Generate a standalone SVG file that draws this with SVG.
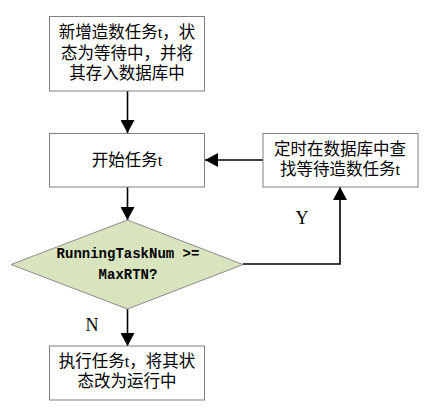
<svg xmlns="http://www.w3.org/2000/svg" width="433" height="410" viewBox="0 0 433 410">
<style>
.box{fill:#ffffff;stroke:#808080;stroke-width:1}
.dia{fill:#d7e4bd;stroke:#8c8c8c;stroke-width:1}
.t{font-family:"Liberation Serif","Noto Sans CJK SC",serif;font-size:16.5px;fill:#000;text-anchor:middle}
.d{font-family:"Liberation Mono","Noto Sans CJK SC",monospace;font-size:14px;font-weight:bold;fill:#000;text-anchor:middle}
.lbl{font-family:"Liberation Serif",serif;font-size:18px;fill:#000;text-anchor:middle}
.c{fill:none;stroke:#000;stroke-width:1.6}
</style>
<defs>
<marker id="ah" markerWidth="13" markerHeight="14" refX="13" refY="7" orient="auto" markerUnits="userSpaceOnUse">
<path d="M0,0 L13,7 L0,14 Z" fill="#000"/>
</marker>
</defs>
<rect width="433" height="410" fill="#fff"/>
<g id="connectors">
<path class="c" d="M127.5,91 V133" marker-end="url(#ah)"/>
<path class="c" d="M127.5,187 V220" marker-end="url(#ah)"/>
<path class="c" d="M127.5,309 V346" marker-end="url(#ah)"/>
<path class="c" d="M243,264 H340 V187" marker-end="url(#ah)"/>
<path class="c" d="M263,160 H205" marker-end="url(#ah)"/>
<text class="lbl" x="302" y="224">Y</text>
<text class="lbl" x="92" y="331">N</text>
</g>
<g id="node-new">
<rect class="box" x="49.5" y="16.5" width="155" height="74.5"/>
<text class="t" x="127" y="38">新增造数任务t，状</text>
<text class="t" x="127" y="59">态为等待中，并将</text>
<text class="t" x="127" y="79">其存入数据库中</text>
</g>
<g id="node-start">
<rect class="box" x="49.5" y="133.5" width="155" height="53.5"/>
<text class="t" x="127" y="166">开始任务t</text>
</g>
<g id="node-poll">
<rect class="box" x="263" y="133.5" width="155" height="53.5"/>
<text class="t" x="340" y="155">定时在数据库中查</text>
<text class="t" x="340" y="175">找等待造数任务t</text>
</g>
<g id="node-decision">
<polygon class="dia" points="127.5,220 243,264.5 127.5,309 11,264.5"/>
<text class="d" x="128" y="258">RunningTaskNum &gt;=</text>
<text class="d" x="128" y="279">MaxRTN?</text>
</g>
<g id="node-run">
<rect class="box" x="49.5" y="346" width="155" height="54"/>
<text class="t" x="127" y="367">执行任务t，将其状</text>
<text class="t" x="127" y="387">态改为运行中</text>
</g>
</svg>
